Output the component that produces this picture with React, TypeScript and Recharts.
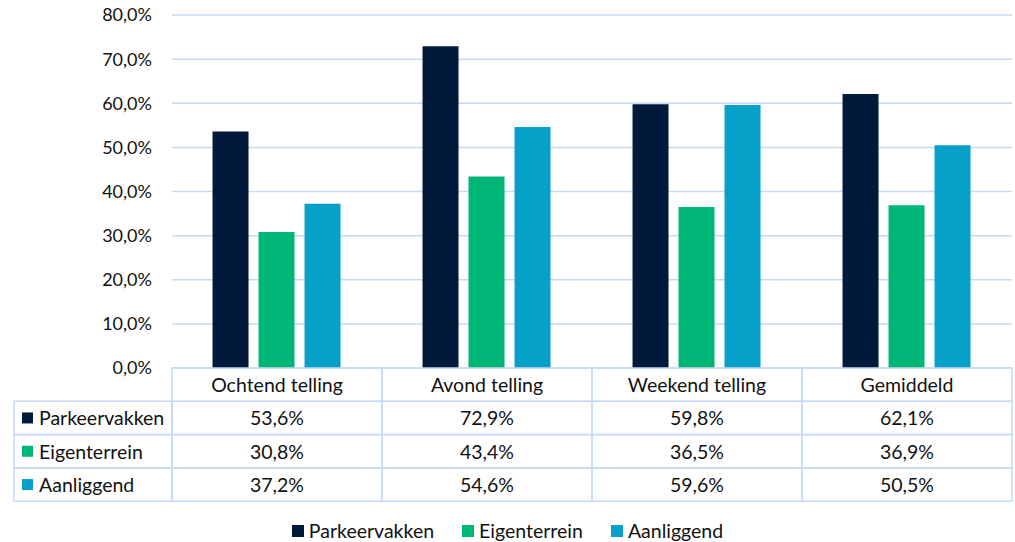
import React from "react";
import { BarChart, Bar, XAxis, YAxis, CartesianGrid, Legend } from "recharts";

const categories = ["Ochtend telling", "Avond telling", "Weekend telling", "Gemiddeld"];
const parkeervakken = [53.6, 72.9, 59.8, 62.1];
const eigenterrein = [30.8, 43.4, 36.5, 36.9];
const aanliggend = [37.2, 54.6, 59.6, 50.5];
const yTicks = [0, 10, 20, 30, 40, 50, 60, 70, 80];

const series = [
  { key: "Parkeervakken", values: parkeervakken, color: "#011a3b" },
  { key: "Eigenterrein", values: eigenterrein, color: "#00b677" },
  { key: "Aanliggend", values: aanliggend, color: "#05a1c8" },
];

const data = categories.map((name, i) => {
  const row: Record<string, string | number> = { name };
  series.forEach((s) => (row[s.key] = s.values[i]));
  return row;
});

// layout
const W = 1015;
const H = 542;
const PLOT_LEFT = 172;
const PLOT_RIGHT = 1012;
const PLOT_TOP = 15;
const PLOT_BOTTOM = 368;
const COL_W = (PLOT_RIGHT - PLOT_LEFT) / categories.length;
const ROW_H = 33.3;
const LABEL_LEFT = 14;
const BORDER = "#c6daf6";
const FONT = "Lato, 'Open Sans', sans-serif";
const FS = 19.5;

const fmt = (v: number) => v.toFixed(1).replace(".", ",") + "%";

function TableTick(props: any) {
  const { x, y, payload, index } = props;
  const left = x - COL_W / 2;
  const i = index as number;
  const cells: React.ReactNode[] = [];

  // header cell
  cells.push(
    <rect key="h" x={left} y={y} width={COL_W} height={ROW_H} fill="none" stroke={BORDER} strokeWidth={1.5} />
  );
  cells.push(
    <text key="ht" x={x} y={y + ROW_H / 2} textAnchor="middle" dominantBaseline="central" fontSize={FS} fill="#111">
      {payload.value}
    </text>
  );
  series.forEach((s, r) => {
    const top = y + ROW_H * (r + 1);
    cells.push(
      <rect key={"c" + r} x={left} y={top} width={COL_W} height={ROW_H} fill="none" stroke={BORDER} strokeWidth={1.5} />
    );
    cells.push(
      <text key={"t" + r} x={x} y={top + ROW_H / 2} textAnchor="middle" dominantBaseline="central" fontSize={FS} fill="#111">
        {fmt(s.values[i])}
      </text>
    );
    if (i === 0) {
      cells.push(
        <rect key={"l" + r} x={LABEL_LEFT} y={top} width={left - LABEL_LEFT} height={ROW_H} fill="none" stroke={BORDER} strokeWidth={1.5} />
      );
      cells.push(<rect key={"sq" + r} x={LABEL_LEFT + 8} y={top + ROW_H / 2 - 5.5} width={11} height={11} fill={s.color} />);
      cells.push(
        <text key={"lt" + r} x={LABEL_LEFT + 25} y={top + ROW_H / 2} dominantBaseline="central" fontSize={FS} fill="#111">
          {s.key}
        </text>
      );
    }
  });
  return <g fontFamily={FONT}>{cells}</g>;
}

function LegendContent() {
  return (
    <div style={{ display: "flex", justifyContent: "center", fontFamily: FONT, fontSize: FS, color: "#111" }}>
      {series.map((s) => (
        <div key={s.key} style={{ display: "flex", alignItems: "center", margin: "0 14px" }}>
          <span style={{ width: 12, height: 12, background: s.color, marginRight: 5, display: "inline-block" }} />
          {s.key}
        </div>
      ))}
    </div>
  );
}

export default function App() {
  return (
    <div style={{ position: "absolute", left: 0, top: 0, width: W, height: H, background: "#fff" }}>
      <BarChart
        width={W}
        height={H}
        data={data}
        margin={{ top: PLOT_TOP, right: W - PLOT_RIGHT, bottom: 0, left: 0 }}
        barCategoryGap="19.3%"
        barGap={10}
      >
        <CartesianGrid vertical={false} stroke={BORDER} strokeWidth={1.5} />
        <XAxis
          dataKey="name"
          axisLine={false}
          tickLine={false}
          tickSize={0}
          tickMargin={0}
          interval={0}
          height={H - PLOT_BOTTOM}
          tick={<TableTick />}
        />
        <YAxis
          width={PLOT_LEFT}
          domain={[0, 80]}
          ticks={yTicks}
          axisLine={false}
          tickLine={false}
          tickSize={0}
          tickMargin={20}
          tickFormatter={(v: number) => fmt(v)}
          tick={{ fontSize: 18, fill: "#111", fontFamily: FONT }}
        />
        <Legend
          layout="horizontal"
          verticalAlign="middle"
          align="center"
          wrapperStyle={{ top: 519, left: 0, width: W }}
          content={<LegendContent />}
        />
        {series.map((s) => (
          <Bar key={s.key} dataKey={s.key} fill={s.color} isAnimationActive={false} />
        ))}
      </BarChart>
    </div>
  );
}
